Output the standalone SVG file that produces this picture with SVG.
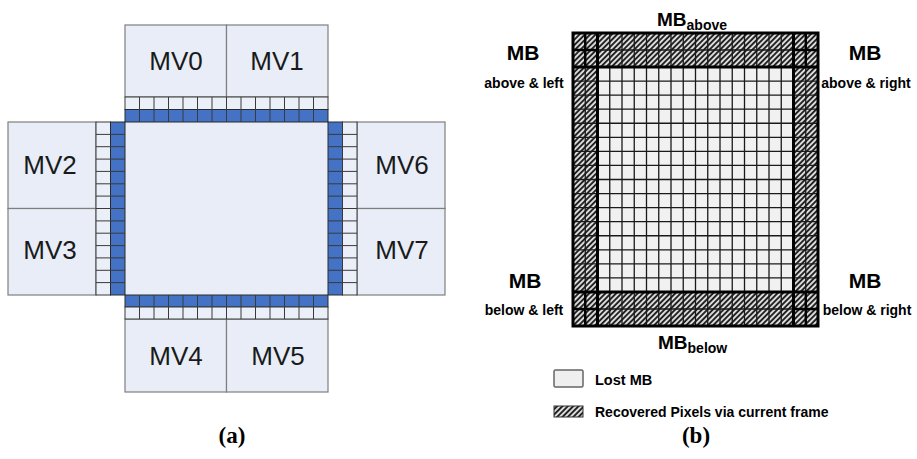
<svg xmlns="http://www.w3.org/2000/svg" width="917" height="459" viewBox="0 0 917 459">
<defs>
<pattern id="hatch" patternUnits="userSpaceOnUse" width="3.8" height="3.8" patternTransform="rotate(45)">
<rect width="3.8" height="3.8" fill="#dcdcdc"/>
<rect width="1.9" height="3.8" fill="#222"/>
</pattern>
<style>
.mv{fill:#e8edf7;stroke:#7f7f7f;stroke-width:1.2}
.mvt{font-family:"Liberation Sans",Arial,sans-serif;font-size:26px;fill:#1a1a1a;text-anchor:middle}
.lc{fill:#eaeff8;stroke:#3a3a3a;stroke-width:1}
.bc{fill:#4472c4;stroke:#2a2a2a;stroke-width:1}
.gl{stroke:#3a3a3a;stroke-width:1;fill:none}
.lab{font-family:"Liberation Sans",Arial,sans-serif;font-weight:bold;fill:#000}
.cap{font-family:"Liberation Serif","Times New Roman",serif;font-weight:bold;font-size:23px;fill:#000;text-anchor:middle}
.hg{stroke:#1a1a1a;stroke-width:1.3;fill:none}
.thk{stroke:#000;stroke-width:3;fill:none}
</style>
</defs>
<rect width="917" height="459" fill="#fff"/>

<g id="panel-a">
<rect id="center" x="125" y="122" width="203" height="173" fill="#e8edf7"/>
<g id="mv0"><rect class="mv" x="125" y="25" width="101.5" height="72"/><text class="mvt" x="176" y="70">MV0</text></g>
<g id="mv1"><rect class="mv" x="226.5" y="25" width="101.5" height="72"/><text class="mvt" x="277" y="70">MV1</text></g>
<g id="mv2"><rect class="mv" x="8" y="122" width="88" height="86.5"/><text class="mvt" x="50" y="174">MV2</text></g>
<g id="mv3"><rect class="mv" x="8" y="208.5" width="88" height="86.5"/><text class="mvt" x="50" y="259">MV3</text></g>
<g id="mv6"><rect class="mv" x="357" y="122" width="88" height="86.5"/><text class="mvt" x="402" y="174">MV6</text></g>
<g id="mv7"><rect class="mv" x="357" y="208.5" width="88" height="86.5"/><text class="mvt" x="402" y="259">MV7</text></g>
<g id="mv4"><rect class="mv" x="125" y="319" width="101.5" height="73"/><text class="mvt" x="176" y="365">MV4</text></g>
<g id="mv5"><rect class="mv" x="226.5" y="319" width="101.5" height="73"/><text class="mvt" x="278" y="365">MV5</text></g>

<g id="top-cells">
<rect class="lc" x="125" y="97" width="203" height="12.5"/>
<rect class="bc" x="125" y="109.5" width="203" height="12.5"/>
<path class="gl" d="M139.5 97V122M154 97V122M168.5 97V122M183 97V122M197.5 97V122M212 97V122M226.5 97V122M241 97V122M255.5 97V122M270 97V122M284.5 97V122M299 97V122M313.5 97V122"/>
</g>
<g id="bottom-cells">
<rect class="bc" x="125" y="295" width="203" height="12"/>
<rect class="lc" x="125" y="307" width="203" height="12"/>
<path class="gl" d="M139.5 295V319M154 295V319M168.5 295V319M183 295V319M197.5 295V319M212 295V319M226.5 295V319M241 295V319M255.5 295V319M270 295V319M284.5 295V319M299 295V319M313.5 295V319"/>
</g>
<g id="left-cells">
<rect class="lc" x="96" y="122" width="14.5" height="173"/>
<rect class="bc" x="110.5" y="122" width="14.5" height="173"/>
<path class="gl" d="M96 134.4H125M96 146.7H125M96 159.1H125M96 171.4H125M96 183.8H125M96 196.1H125M96 208.5H125M96 220.9H125M96 233.2H125M96 245.6H125M96 257.9H125M96 270.3H125M96 282.6H125"/>
</g>
<g id="right-cells">
<rect class="bc" x="328" y="122" width="14.5" height="173"/>
<rect class="lc" x="342.5" y="122" width="14.5" height="173"/>
<path class="gl" d="M328 134.4H357M328 146.7H357M328 159.1H357M328 171.4H357M328 183.8H357M328 196.1H357M328 208.5H357M328 220.9H357M328 233.2H357M328 245.6H357M328 257.9H357M328 270.3H357M328 282.6H357"/>
</g>
<text class="cap" x="232" y="443">(a)</text>
</g>

<g id="panel-b">
<rect x="573" y="33" width="245" height="293" fill="url(#hatch)"/>
<rect id="lost-mb" x="597.5" y="67" width="196" height="225" fill="#f1f1f1"/>
<path class="hg" d="M585.25 33V326M609.75 33V326M622 33V326M634.25 33V326M646.5 33V326M658.75 33V326M671 33V326M683.25 33V326M695.5 33V326M707.75 33V326M720 33V326M732.25 33V326M744.5 33V326M756.75 33V326M769 33V326M781.25 33V326M805.75 33V326"/>
<path class="hg" d="M573 50H818M573 81.06H818M573 95.13H818M573 109.19H818M573 123.25H818M573 137.31H818M573 151.38H818M573 165.44H818M573 179.5H818M573 193.56H818M573 207.63H818M573 221.69H818M573 235.75H818M573 249.81H818M573 263.88H818M573 277.94H818M573 309H818"/>
<path stroke="#000" stroke-width="2.4" fill="none" d="M585.25 33V67M573 50H597.5M805.75 33V67M793.5 50H818M585.25 292V326M573 309H597.5M805.75 292V326M793.5 309H818"/>
<path class="thk" d="M597.5 33V326M793.5 33V326M573 67H818M573 292H818"/>
<rect class="thk" x="573" y="33" width="245" height="293"/>

<text class="lab" x="657" y="26" font-size="19">MB<tspan font-size="14" dy="4">above</tspan></text>
<text class="lab" x="658" y="349" font-size="19">MB<tspan font-size="14" dy="4">below</tspan></text>
<text class="lab" x="523" y="60" font-size="21" text-anchor="middle">MB</text>
<text class="lab" x="524" y="88" font-size="14" text-anchor="middle">above &amp; left</text>
<text class="lab" x="865" y="60" font-size="21" text-anchor="middle">MB</text>
<text class="lab" x="866" y="88" font-size="14" text-anchor="middle">above &amp; right</text>
<text class="lab" x="525" y="288" font-size="21" text-anchor="middle">MB</text>
<text class="lab" x="524" y="315" font-size="14" text-anchor="middle">below &amp; left</text>
<text class="lab" x="865" y="288" font-size="21" text-anchor="middle">MB</text>
<text class="lab" x="867" y="315" font-size="14" text-anchor="middle">below &amp; right</text>

<g id="legend">
<rect x="554" y="370" width="29" height="17" rx="1.5" fill="#efefef" stroke="#666" stroke-width="1.5"/>
<text class="lab" x="595" y="385" font-size="14.5">Lost MB</text>
<rect x="554" y="406" width="29" height="11" fill="url(#hatch)" stroke="#333" stroke-width="1"/>
<text class="lab" x="595" y="417" font-size="14">Recovered Pixels via current frame</text>
</g>
<text class="cap" x="696" y="443">(b)</text>
</g>
</svg>
